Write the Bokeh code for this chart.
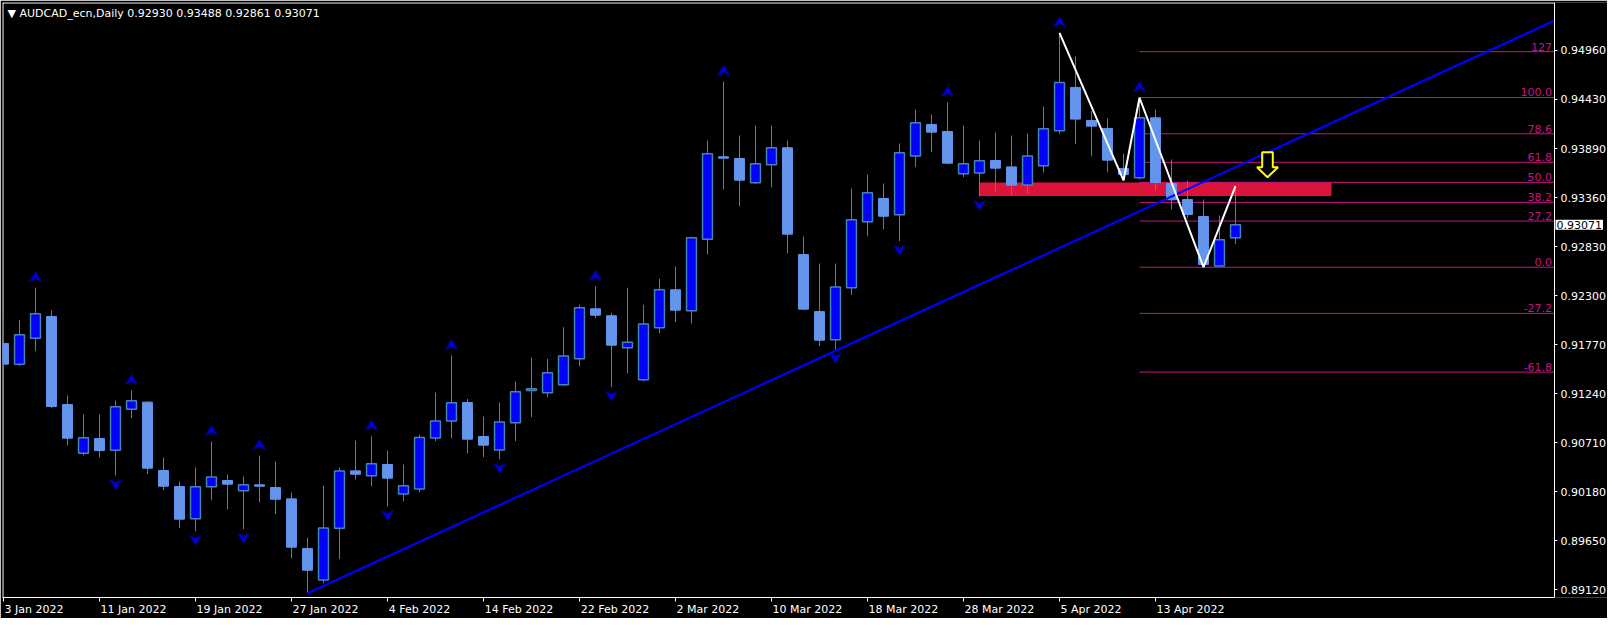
from bokeh.plotting import figure
from bokeh.models import (Range1d, FixedTicker, Label, LinearAxis, PrintfTickFormatter,
                          CustomJSTickFormatter)
from bokeh.core.properties import value
from bokeh.embed import file_html
from bokeh.resources import INLINE

# ---------------- data ----------------
title_text = "\u25bc AUDCAD_ecn,Daily  0.92930 0.93488 0.92861 0.93071"

date_idx = [0, 6, 12, 18, 24, 30, 36, 42, 48, 54, 60, 66, 72]
date_labels = ["3 Jan 2022", "11 Jan 2022", "19 Jan 2022", "27 Jan 2022", "4 Feb 2022",
               "14 Feb 2022", "22 Feb 2022", "2 Mar 2022", "10 Mar 2022", "18 Mar 2022",
               "28 Mar 2022", "5 Apr 2022", "13 Apr 2022"]

price_ticks = [0.89120, 0.89650, 0.90180, 0.90710, 0.91240, 0.91770,
               0.92300, 0.92830, 0.93360, 0.93890, 0.94430, 0.94960]

opens = [0.91785, 0.91561, 0.91842, 0.92077, 0.91124, 0.90598, 0.90756, 0.90630, 0.91074, 0.91150,
         0.90410, 0.90237, 0.89887, 0.90233, 0.90302, 0.90190, 0.90255, 0.90226, 0.90103, 0.89565,
         0.89226, 0.89785, 0.90406, 0.90352, 0.90475, 0.90157, 0.90211, 0.90763, 0.90947, 0.91146,
         0.90778, 0.90633, 0.90926, 0.91276, 0.91251, 0.91339, 0.91619, 0.92160, 0.92085, 0.91738,
         0.91392, 0.91955, 0.92366, 0.92139, 0.92914, 0.93805, 0.93787, 0.93524, 0.93719, 0.93903,
         0.92747, 0.92130, 0.91824, 0.92387, 0.93101, 0.93354, 0.93177, 0.93815, 0.94155, 0.94079,
         0.93621, 0.93631, 0.93765, 0.93696, 0.93501, 0.93707, 0.94086, 0.94556, 0.94198, 0.94112,
         0.93679, 0.93578, 0.94227, 0.93516, 0.93343, 0.93159, 0.92622, 0.92930]
highs = [0.92041, 0.92041, 0.92387, 0.92142, 0.91222, 0.91016, 0.91016, 0.91168, 0.91276, 0.91160,
         0.90551, 0.90291, 0.90442, 0.90724, 0.90367, 0.90345, 0.90572, 0.90507, 0.90172, 0.89684,
         0.90247, 0.90442, 0.90734, 0.90781, 0.90626, 0.90475, 0.90799, 0.91254, 0.91654, 0.91185,
         0.90994, 0.91146, 0.91373, 0.91633, 0.91619, 0.91961, 0.92204, 0.92402, 0.92117, 0.92388,
         0.92204, 0.92485, 0.92618, 0.92940, 0.93982, 0.94620, 0.94036, 0.94144, 0.94144, 0.93982,
         0.92942, 0.92650, 0.92650, 0.93462, 0.93613, 0.93516, 0.93949, 0.94317, 0.94263, 0.94393,
         0.94144, 0.93981, 0.94068, 0.94035, 0.94057, 0.94349, 0.95147, 0.94891, 0.94299, 0.94220,
         0.93838, 0.94444, 0.94317, 0.93776, 0.93549, 0.93343, 0.93170, 0.93488]
lows = [0.91539, 0.91539, 0.91702, 0.91085, 0.90681, 0.90572, 0.90551, 0.90356, 0.90976, 0.90370,
        0.90197, 0.89786, 0.89753, 0.90089, 0.89991, 0.89775, 0.90067, 0.89937, 0.89461, 0.89082,
        0.89190, 0.89450, 0.90312, 0.90240, 0.90020, 0.90078, 0.90175, 0.90727, 0.90760, 0.90597,
        0.90554, 0.90532, 0.90727, 0.90987, 0.91203, 0.91323, 0.91539, 0.92059, 0.91312, 0.91463,
        0.91373, 0.91896, 0.92015, 0.92001, 0.92748, 0.93451, 0.93271, 0.93511, 0.93476, 0.92762,
        0.92145, 0.91755, 0.91723, 0.92311, 0.92946, 0.93022, 0.92892, 0.93693, 0.93855, 0.93725,
        0.93584, 0.93375, 0.93422, 0.93386, 0.93400, 0.93635, 0.94054, 0.93942, 0.93812, 0.93639,
        0.93549, 0.93560, 0.93441, 0.93235, 0.93138, 0.92605, 0.92620, 0.92861]
closes = [0.91561, 0.91878, 0.92106, 0.91103, 0.90760, 0.90764, 0.90626, 0.91099, 0.91164, 0.90435,
          0.90240, 0.89883, 0.90233, 0.90341, 0.90262, 0.90255, 0.90240, 0.90099, 0.89580, 0.89331,
          0.89789, 0.90406, 0.90370, 0.90482, 0.90327, 0.90244, 0.90767, 0.90947, 0.91142, 0.90749,
          0.90684, 0.90936, 0.91261, 0.91294, 0.91468, 0.91649, 0.92171, 0.92091, 0.91766, 0.91799,
          0.91996, 0.92366, 0.92145, 0.92929, 0.93838, 0.93790, 0.93552, 0.93730, 0.93903, 0.92968,
          0.92156, 0.91820, 0.92397, 0.93123, 0.93415, 0.93162, 0.93848, 0.94173, 0.94072, 0.93736,
          0.93729, 0.93761, 0.93682, 0.93498, 0.93815, 0.94108, 0.94610, 0.94213, 0.94137, 0.93769,
          0.93614, 0.94227, 0.93527, 0.93340, 0.93181, 0.92640, 0.92907, 0.93071]

fractal_up = [2, 8, 13, 16, 23, 28, 37, 45, 59, 66, 71]
fractal_down = [7, 12, 15, 19, 24, 31, 38, 52, 56, 61]

zigzag_idx = [66, 70, 71, 75, 77]
zigzag_price = [0.95147, 0.93549, 0.94444, 0.92610, 0.93488]

trend_idx = [19, 96.9]
trend_price = [0.89082, 0.95275]

fib_start = 71
fib_low = 0.92610
fib_high = 0.94447
fib_levels = [127, 100, 78.6, 61.8, 50, 38.2, 27.2, 0, -27.2, -61.8]
fib_texts = ["127", "100.0", "78.6", "61.8", "50.0", "38.2", "27.2", "0.0", "-27.2", "-61.8"]

zone_left, zone_right = 61, 83
zone_bottom, zone_top = 0.93380, 0.93528

arrow_idx, arrow_top = 79, 0.93855
last_price = 0.93071

# ---------------- figure ----------------
PX_BAR = 16.0        # pixels per bar
PX_PRICE = 9240.0    # pixels per price unit
FW, FH = 1605, 595   # frame also holds the price scale strip on the right
CHART_W = 1552       # width of the candle area up to the price axis line
X0 = -0.0625
XA = X0 + CHART_W / PX_BAR      # price axis position
X1 = X0 + FW / PX_BAR
Y1 = 0.95475
Y0 = Y1 - FH / PX_PRICE

p = figure(frame_width=FW, frame_height=FH, output_backend="svg", toolbar_location=None,
           x_range=Range1d(X0, X1), y_range=Range1d(Y0, Y1), y_axis_location="right",
           min_border_left=2, min_border_top=2, min_border_right=0, min_border_bottom=18,
           background_fill_color="black", border_fill_color="black",
           outline_line_color=None)
p.grid.visible = False

FONT = "DejaVu Sans"

# x axis 1: line + tick marks
xa = p.xaxis[0]
xa.bounds = (X0, XA)
xa.ticker = FixedTicker(ticks=date_idx)
xa.major_label_overrides = {t: "" for t in date_idx}
xa.major_label_text_font_size = "0px"
xa.major_label_standoff = 0
xa.axis_line_color = "white"
xa.major_tick_line_color = "white"
xa.major_tick_out = 4
xa.major_tick_in = 0
xa.minor_tick_line_color = None

# x axis 2: date labels starting at their tick
cw = {" ": 0.318, "J": 0.295, "a": 0.613, "n": 0.634, "F": 0.575, "e": 0.615, "b": 0.635,
      "M": 0.863, "r": 0.411, "A": 0.684, "p": 0.635}
def label_w(s):
    return sum(cw.get(ch, 0.636) for ch in s) * 11.0
label_pos = [i + (label_w(s) / 2.0 + 1.0) / PX_BAR for i, s in zip(date_idx, date_labels)]
xb = LinearAxis(ticker=FixedTicker(ticks=label_pos),
                formatter=CustomJSTickFormatter(args=dict(labels=date_labels),
                                                code="return labels[index];"))
xb.axis_line_color = None
xb.major_tick_line_color = None
xb.major_tick_out = 0
xb.major_tick_in = 0
xb.minor_tick_line_color = None
xb.major_label_standoff = 1
xb.major_label_text_color = "white"
xb.major_label_text_font = FONT
xb.major_label_text_font_size = "11px"
p.add_layout(xb, "below")

# price axis (right), drawn at the edge of the candle area
ya = p.yaxis[0]
ya.fixed_location = XA
ya.ticker = FixedTicker(ticks=price_ticks)
ya.formatter = PrintfTickFormatter(format="%.5f")
ya.axis_line_color = "white"
ya.major_tick_line_color = "white"
ya.major_tick_out = 3
ya.major_tick_in = 0
ya.minor_tick_line_color = None
ya.major_label_text_color = "white"
ya.major_label_text_font = FONT
ya.major_label_text_font_size = "11px"
ya.major_label_standoff = 3

# top and left border of the chart window
p.segment(x0=[X0, X0 + 0.5 / PX_BAR], y0=[Y1 - 0.5 / PX_PRICE, Y0],
          x1=[XA, X0 + 0.5 / PX_BAR], y1=[Y1 - 0.5 / PX_PRICE, Y1],
          line_color="white", line_width=1)

# red zone
p.quad(left=[zone_left], right=[zone_right], bottom=[zone_bottom], top=[zone_top],
       fill_color="#DC143C", line_color=None)

# fibonacci
fib_prices = [fib_low + lv / 100.0 * (fib_high - fib_low) for lv in fib_levels]
p.segment(x0=[fib_start] * len(fib_prices), y0=fib_prices, x1=[XA] * len(fib_prices), y1=fib_prices,
          line_color="#C71585", line_width=1)
p.text(x=[XA - 0.15] * len(fib_prices), y=fib_prices, text=fib_texts, text_align="right",
       text_baseline="bottom", text_color="#C71585", text_font=value(FONT), text_font_size="11px",
       y_offset=-1)

# candles
xs = list(range(len(opens)))
bull = [c >= o for o, c in zip(opens, closes)]
bx = [x for x, b in zip(xs, bull) if b]
btop = [c for c, b in zip(closes, bull) if b]
bbot = [o for o, b in zip(opens, bull) if b]
rx = [x for x, b in zip(xs, bull) if not b]
rtop = [o for o, b in zip(opens, bull) if not b]
rbot = [c for c, b in zip(closes, bull) if not b]
p.segment(x0=xs, y0=lows, x1=xs, y1=highs, line_color="#4682B4", line_width=1)
p.vbar(x=rx, top=rtop, bottom=rbot, width=0.62, fill_color="#6495ED", line_color="#6495ED",
       line_width=1)
p.vbar(x=bx, top=btop, bottom=bbot, width=0.62, fill_color="#0000FF", line_color="#4682B4",
       line_width=1.5)

# fractal arrows
dx, dy = 1.0 / PX_BAR, 1.0 / PX_PRICE
def arrow_shape(cx, cy, up):
    s = 1 if up else -1
    return ([cx, cx + 6 * dx, cx, cx - 6 * dx],
            [cy + s * 5 * dy, cy - s * 5 * dy, cy - s * 2 * dy, cy - s * 5 * dy])

axs, ays = [], []
for i in fractal_up:
    a, b = arrow_shape(i, highs[i] + 11 * dy, True)
    axs.append(a); ays.append(b)
for i in fractal_down:
    a, b = arrow_shape(i, lows[i] - 9 * dy, False)
    axs.append(a); ays.append(b)
p.patches(xs=axs, ys=ays, fill_color="#0000D8", line_color="#000090", line_width=1)

# trend line
p.line(trend_idx, trend_price, line_color="#0000FF", line_width=2.2)

# zigzag
p.line(zigzag_idx, zigzag_price, line_color="white", line_width=2)

# yellow hollow arrow
shape = [(-5.3, 0), (5.3, 0), (5.3, 15), (10.5, 15), (0, 25), (-10.5, 15), (-5.3, 15)]
p.patch([arrow_idx + sx * dx for sx, sy in shape], [arrow_top - sy * dy for sx, sy in shape],
        fill_color="black", line_color="#FFFF00", line_width=2)

# title
p.add_layout(Label(x=X0, y=Y1, x_offset=5, y_offset=-4, text=title_text, text_color="white",
                   text_font=FONT, text_font_size="11px", text_baseline="top", text_align="left"))

# current price box on the price scale
p.add_layout(Label(x=XA, y=last_price, x_offset=1, text="0.93071", text_color="black",
                   text_font=FONT, text_font_size="11px", text_baseline="middle",
                   text_align="left", background_fill_color="white", padding=1))

open("out.html", "w").write(file_html(p, INLINE))
